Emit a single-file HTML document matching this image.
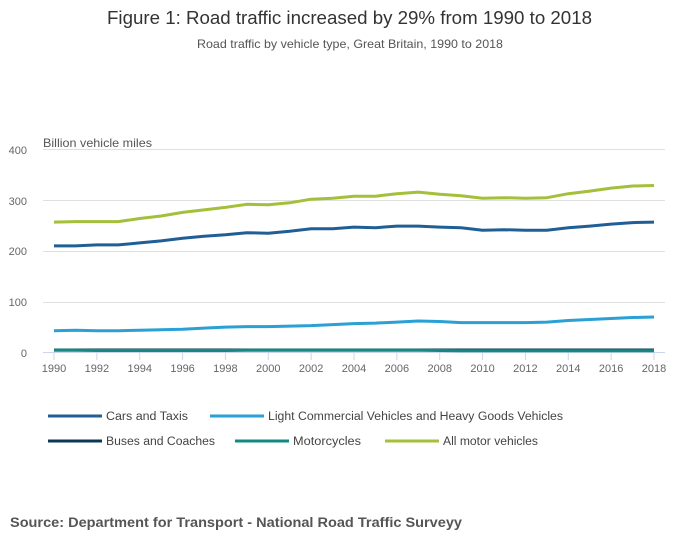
<!DOCTYPE html>
<html><head><meta charset="utf-8"><style>
body{margin:0;background:#fff;font-family:"Liberation Sans",sans-serif;}
</style></head><body>
<svg width="700" height="549" xmlns="http://www.w3.org/2000/svg" font-family="Liberation Sans, sans-serif">
<rect width="700" height="549" fill="#fff"/>
<text x="107" y="24" font-size="18" fill="#333" textLength="485" lengthAdjust="spacingAndGlyphs">Figure 1: Road traffic increased by 29% from 1990 to 2018</text>
<text x="197" y="48" font-size="12" fill="#555" textLength="306" lengthAdjust="spacingAndGlyphs">Road traffic by vehicle type, Great Britain, 1990 to 2018</text>
<text x="43" y="147" font-size="12" fill="#555" textLength="109" lengthAdjust="spacingAndGlyphs">Billion vehicle miles</text>
<g stroke="#e0e0e0" stroke-width="1">
<line x1="43" x2="665" y1="149.5" y2="149.5"/>
<line x1="43" x2="665" y1="200.5" y2="200.5"/>
<line x1="43" x2="665" y1="251.5" y2="251.5"/>
<line x1="43" x2="665" y1="302.5" y2="302.5"/>
</g>
<line x1="43" x2="665" y1="352.5" y2="352.5" stroke="#ccd6eb"/>
<g font-size="11" fill="#666" text-anchor="end">
<text x="27" y="154">400</text><text x="27" y="205">300</text><text x="27" y="255">200</text><text x="27" y="306">100</text><text x="27" y="357">0</text>
</g>
<g id="xt" font-size="11" fill="#666" text-anchor="middle"></g>
<g id="ticks" stroke="#ccd6eb"></g>
<g id="lines" fill="none" stroke-width="3" stroke-linejoin="round"></g>
<g font-size="11.5" fill="#444" lengthAdjust="spacingAndGlyphs">
<line x1="48" x2="102" y1="416" y2="416" stroke="#1f5f95" stroke-width="3"/><text x="106" y="420" textLength="82" lengthAdjust="spacingAndGlyphs">Cars and Taxis</text>
<line x1="210" x2="264" y1="416" y2="416" stroke="#2aa0d4" stroke-width="3"/><text x="268" y="420" textLength="295" lengthAdjust="spacingAndGlyphs">Light Commercial Vehicles and Heavy Goods Vehicles</text>
<line x1="48" x2="102" y1="441" y2="441" stroke="#0c3754" stroke-width="3"/><text x="106" y="445" textLength="109" lengthAdjust="spacingAndGlyphs">Buses and Coaches</text>
<line x1="235" x2="289" y1="441" y2="441" stroke="#138a7f" stroke-width="3"/><text x="293" y="445" textLength="68" lengthAdjust="spacingAndGlyphs">Motorcycles</text>
<line x1="385" x2="439" y1="441" y2="441" stroke="#a4bf3a" stroke-width="3"/><text x="443" y="445" textLength="95" lengthAdjust="spacingAndGlyphs">All motor vehicles</text>
</g>
<text x="10" y="527" font-size="13.5" font-weight="bold" fill="#555" textLength="452" lengthAdjust="spacingAndGlyphs">Source: Department for Transport - National Road Traffic Surveyy</text>
<script>
var ns="http://www.w3.org/2000/svg";
function X(i){return 54+i*600/28;}
function Y(v){return 352.5-v*0.5075;}
var xt=document.getElementById("xt"),tk=document.getElementById("ticks");
for(var i=0;i<=28;i+=2){var t=document.createElementNS(ns,"text");t.setAttribute("x",X(i));t.setAttribute("y",372);t.textContent=1990+i;xt.appendChild(t);}
for(var i=0;i<=28;i++){if(i%2)continue;var l=document.createElementNS(ns,"line");l.setAttribute("x1",X(i));l.setAttribute("x2",X(i));l.setAttribute("y1",353);l.setAttribute("y2",360);tk.appendChild(l);}
var S=[
["#a4bf3a",[257,258,258,258,264,269,276,281,286,292,291,295,302,304,308,308,313,316,312,309,304,305,304,305,313,318,324,328,329]],
["#1f5f95",[210,210,212,212,216,220,225,229,232,236,235,239,244,244,247,246,249,249,247,246,241,242,241,241,246,249,253,256,257]],
["#2aa0d4",[43,44,43,43,44,45,46,48,50,51,51,52,53,55,57,58,60,62,61,59,59,59,59,60,63,65,67,69,70]],
["#0c3754",[5,5,5,5,5,5,5,5,5,5,5,5,5,5,5,5,5,5,5,5,5,5,5,5,5,5,5,5,5]],
["#138a7f",[4.5,4.5,4,4,4,4,4,4,4,4.5,4.5,4.5,4.5,4.5,4.5,4.5,4.5,4.5,4,3.5,3.5,3.5,3.5,3.5,3.5,3.5,3.5,3.5,3.5]]
];
var g=document.getElementById("lines");
S.forEach(function(s){var d="";s[1].forEach(function(v,i){d+=(i?"L":"M")+X(i).toFixed(1)+","+Y(v).toFixed(1);});var p=document.createElementNS(ns,"path");p.setAttribute("d",d);p.setAttribute("stroke",s[0]);g.appendChild(p);});
</script>
</svg>
</body></html>
